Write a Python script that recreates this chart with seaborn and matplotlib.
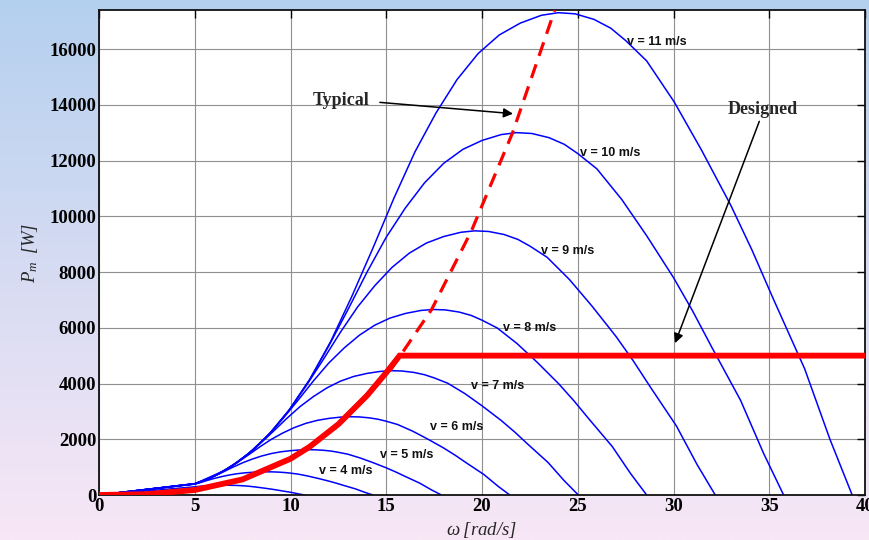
import numpy as np
import pandas as pd
import matplotlib
matplotlib.use("Agg")
import matplotlib.pyplot as plt
import seaborn as sns


# ---- values ----------------------------------------------------------------

# mechanical power curves P_m(omega) for each wind speed v
w_v3 = [0, 5, 5.4, 5.7, 6.0, 6.3, 6.54, 6.78, 7.05, 7.29, 7.5, 7.8, 8.19, 8.58,
        9.0, 9.3, 9.6, 10.05, 10.41, 10.73]
p_v3 = [0, 294, 321, 335, 343, 349, 351, 350, 346, 340, 331, 316, 286, 251,
        211, 178, 143, 92, 41, 0]

w_v4 = [0, 5, 5.2, 5.6, 6.0, 6.4, 6.8, 7.2, 7.6, 8.0, 8.4, 8.72, 9.04, 9.4,
        9.72, 10.0, 10.4, 10.92, 11.44, 12.0, 12.4, 12.8, 13.4, 13.88, 14.3]
p_v4 = [0, 390, 426, 512, 592, 659, 717, 762, 794, 814, 828, 832, 830, 820,
        805, 784, 749, 678, 595, 499, 422, 339, 218, 96, 0]

w_v5 = [0, 5, 5.5, 6, 6.5, 7, 7.5, 8, 8.5, 9, 9.5, 10, 10.5, 10.9, 11.3,
        11.75, 12.15, 12.5, 13, 13.65, 14.3, 15, 15.5, 16, 16.75, 17.35, 17.88]
p_v5 = [0, 395, 518, 669, 831, 1000, 1156, 1288, 1400, 1488, 1550, 1590, 1616,
        1625, 1621, 1603, 1573, 1531, 1463, 1325, 1163, 975, 825, 663, 425, 188, 0]

w_v6 = [0, 5, 5.4, 6, 6.6, 7.2, 7.8, 8.4, 9, 9.6, 10.2, 10.8, 11.4, 12, 12.6,
        13.08, 13.56, 14.1, 14.58, 15, 15.6, 16.38, 17.16, 18, 18.6, 19.2,
        20.1, 20.82, 21.45]
p_v6 = [0, 400, 490, 672, 894, 1156, 1436, 1728, 1998, 2225, 2419, 2570, 2678,
        2748, 2793, 2808, 2802, 2769, 2717, 2646, 2527, 2290, 2009, 1685, 1426,
        1145, 734, 324, 0]

w_v7 = [0, 5, 5.6, 6.3, 7, 7.7, 8.4, 9.1, 9.8, 10.5, 11.2, 11.9, 12.6, 13.3,
        14, 14.7, 15.26, 15.82, 16.45, 17.0, 17.5, 18.2, 19.11, 20.02, 21,
        21.7, 22.4, 23.45, 24.29, 25.03]
p_v7 = [0, 410, 545, 778, 1067, 1420, 1835, 2281, 2744, 3173, 3533, 3842, 4082,
        4253, 4363, 4435, 4459, 4449, 4397, 4315, 4202, 4013, 3636, 3190, 2675,
        2264, 1818, 1166, 515, 0]

w_v8 = [0, 5, 5.6, 6.4, 7.2, 8, 8.8, 9.6, 10.4, 11.2, 12, 12.8, 13.6, 14.4,
        15.2, 16, 16.8, 17.44, 18.08, 18.8, 19.44, 20, 20.8, 21.84, 22.88, 24,
        24.8, 25.6, 26.8, 27.76, 28.6]
p_v8 = [0, 405, 546, 814, 1161, 1592, 2120, 2739, 3405, 4096, 4736, 5274, 5734,
        6093, 6349, 6513, 6620, 6656, 6641, 6564, 6441, 6272, 5990, 5427, 4762,
        3994, 3379, 2714, 1741, 768, 0]

w_v9 = [0, 5, 5.4, 6.3, 7.2, 8.1, 9, 9.9, 10.8, 11.7, 12.6, 13.5, 14.4, 15.3,
        16.2, 17.1, 18, 18.9, 19.62, 20.34, 21.15, 21.87, 22.5, 23.4, 24.57,
        25.74, 27, 27.9, 28.8, 30.15, 31.23, 32.18]
p_v9 = [0, 400, 490, 778, 1159, 1653, 2267, 3018, 3900, 4848, 5832, 6743, 7509,
        8165, 8675, 9040, 9273, 9426, 9477, 9455, 9346, 9171, 8930, 8529, 7727,
        6780, 5686, 4811, 3864, 2479, 1094, 0]

w_v10 = [0, 5, 6, 7, 8, 9, 10, 11, 12, 13, 14, 15, 16, 17, 18, 19, 20, 21,
         21.8, 22.6, 23.5, 24.3, 25, 26, 27.3, 28.6, 30, 31, 32, 33.5, 34.7, 35.75]
p_v10 = [0, 400, 672, 1067, 1590, 2267, 3110, 4140, 5350, 6650, 8000, 9250,
         10300, 11200, 11900, 12400, 12720, 12930, 13000, 12970, 12820, 12580,
         12250, 11700, 10600, 9300, 7800, 6600, 5300, 3400, 1500, 0]

w_v11 = [0, 5, 6.6, 7.7, 8.8, 9.9, 11.0, 12.1, 13.2, 14.3, 15.4, 16.5, 17.6,
         18.7, 19.8, 20.9, 22.0, 23.1, 23.98, 24.86, 25.85, 26.73, 27.5, 28.6,
         30.03, 31.46, 33.0, 34.1, 35.2, 36.85, 38.17, 39.33]
p_v11 = [0, 400, 894, 1420, 2116, 3018, 4139, 5510, 7121, 8851, 10648, 12312,
         13709, 14907, 15839, 16504, 16930, 17210, 17303, 17263, 17063, 16744,
         16305, 15573, 14109, 12378, 10382, 8785, 7054, 4525, 1997, 0]

# red curves: designed (solid, limited at 5 kW) and typical (dashed, MPPT)
designed_w = [0, 2.5, 5, 7.5, 10, 11, 12.5, 14, 15, 15.7, 40]
designed_p = [0, 30, 180, 560, 1300, 1730, 2540, 3570, 4390, 5000, 5000]
typical_w = [15.2, 17.37, 19.45, 21.6, 23.8]
typical_p = [4459, 6656, 9477, 13000, 17400]

# curve labels (left edge, vertical centre)
label_text = ["v = 4 m/s", "v = 5 m/s", "v = 6 m/s", "v = 7 m/s",
              "v = 8 m/s", "v = 9 m/s", "v = 10 m/s", "v = 11 m/s"]
label_w = [11.5, 14.67, 17.28, 19.4, 21.1, 23.1, 25.1, 27.57]
label_p = [873, 1436, 2430, 3914, 6008, 8760, 12280, 16265]

x_ticks = [0, 5, 10, 15, 20, 25, 30, 35, 40]
y_ticks = [0, 2000, 4000, 6000, 8000, 10000, 12000, 14000, 16000]


# ---- build a long table for seaborn ----------------------------------------

curves = {3: (w_v3, p_v3), 4: (w_v4, p_v4), 5: (w_v5, p_v5), 6: (w_v6, p_v6),
          7: (w_v7, p_v7), 8: (w_v8, p_v8), 9: (w_v9, p_v9), 10: (w_v10, p_v10),
          11: (w_v11, p_v11)}
rows = []
for v, (ws, ps) in curves.items():
    for w, p in zip(ws, ps):
        rows.append({"v": v, "omega": w, "power": p})
data = pd.DataFrame(rows)


# ---- plot ------------------------------------------------------------------

sns.set_style("white")
plt.rcParams["font.family"] = ["Liberation Serif", "DejaVu Serif"]
plt.rcParams["mathtext.fontset"] = "custom"
plt.rcParams["mathtext.it"] = "Liberation Serif:italic"
plt.rcParams["mathtext.rm"] = "Liberation Serif:italic"

fig = plt.figure(figsize=(8.7, 5.4), dpi=100)

# gradient background behind everything
bg = fig.add_axes([0, 0, 1, 1], zorder=0)
top = np.array([180, 208, 239]) / 255
bottom = np.array([248, 231, 246]) / 255
t = np.linspace(0, 1, 256)[:, None, None]
bg.imshow(top + (bottom - top) * t, aspect="auto", extent=[0, 1, 0, 1])
bg.axis("off")

ax = fig.add_axes([99 / 870, 45 / 540, 766 / 870, 485 / 540], zorder=1)
ax.set_facecolor("white")

sns.lineplot(data=data, x="omega", y="power", hue="v", estimator=None,
             sort=False, palette=["#0000ff"] * 9, legend=False,
             linewidth=1.1, ax=ax)
ax.plot(typical_w, typical_p, color="#ff0000", lw=2.3, dashes=(4.5, 2.8),
        solid_capstyle="butt", zorder=3)
ax.plot(designed_w, designed_p, color="#ff0000", lw=4.2, zorder=4,
        solid_joinstyle="miter")

for txt, w, p in zip(label_text, label_w, label_p):
    ax.text(w, p, txt, ha="left", va="center", fontsize=9, weight="bold",
            family="Liberation Sans", color="#111111")

ax.text(11.17, 14150, "Typical", ha="left", va="center", fontsize=13,
        weight="bold")
ax.annotate("", xy=(21.62, 13680), xytext=(14.67, 14086),
            arrowprops=dict(arrowstyle="-|>", color="black", lw=1.1,
                            mutation_scale=14, shrinkA=0, shrinkB=0))
ax.text(32.85, 13824, "Designed", ha="left", va="center", fontsize=13,
        weight="bold")
ax.annotate("", xy=(30.08, 5447), xytext=(34.48, 13404),
            arrowprops=dict(arrowstyle="-|>", color="black", lw=1.1,
                            mutation_scale=14, shrinkA=0, shrinkB=0))

ax.set_xlim(0, 40)
ax.set_ylim(0, 17400)
ax.set_xticks(x_ticks)
ax.set_yticks(y_ticks)
ax.set_xticklabels([str(x) for x in x_ticks], fontsize=13.5, weight="bold")
ax.set_yticklabels([str(y) for y in y_ticks], fontsize=13.5, weight="bold")
ax.tick_params(direction="in", length=6, width=1, top=True, right=True,
               pad=2, colors="black")
ax.grid(True, color="#8f8f8f", lw=0.8)
for s in ax.spines.values():
    s.set_linewidth(1.3)
    s.set_color("#111111")

ax.set_xlabel(r"$\omega\;[rad/s]$", fontsize=13.5)
ax.set_ylabel(r"$P_m\;\;[W]$", fontsize=13.5)
ax.xaxis.set_label_coords(0.5, -0.052)
ax.yaxis.set_label_coords(-0.077, 0.5)

fig.savefig("out.png", dpi=100)
